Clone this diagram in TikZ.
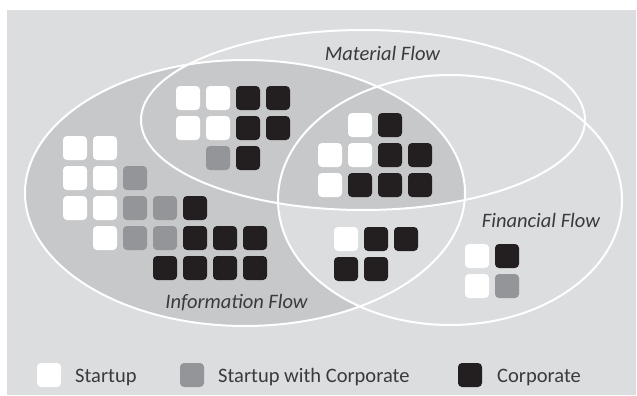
\documentclass[tikz,border=0pt]{standalone}
\usepackage{fontspec}
\setmainfont{Carlito}
\definecolor{panel}{HTML}{DCDDDF}
\definecolor{infofill}{HTML}{C7C8CA}
\definecolor{midgray}{HTML}{939598}
\definecolor{nearblack}{HTML}{231F20}
\definecolor{labeltext}{HTML}{3A3A3A}
\begin{document}
\begin{tikzpicture}[x=1pt,y=-1pt,
  tile/.style={minimum size=24pt, inner sep=0pt, outer sep=0pt,
    rounded corners=4pt, anchor=north west},
  flow/.style={font=\fontsize{20.5}{24}\selectfont\itshape, text=labeltext,
    anchor=base, inner sep=0pt},
  key/.style={font=\fontsize{20.5}{24}\selectfont, text=labeltext,
    anchor=base west, inner sep=0pt},
  ring/.style={draw=white, line width=2pt}]
\useasboundingbox (0,0) rectangle (637,396);
\fill[white] (0,0) rectangle (637,396);
\fill[panel] (7,10) rectangle (636,395);

% the three flows
\def\infopath{(245,193) ellipse [x radius=220pt, y radius=133pt]}
\def\matpath{(363,120) ellipse [x radius=222pt, y radius=90pt]}
\def\finpath{(450,200) ellipse [x radius=172pt, y radius=125pt]}

\fill[infofill] \infopath;
\begin{scope}
  \clip \infopath;
  \clip \finpath;
  \fill[panel] (0,0) rectangle (637,396);
  \clip \matpath;
  \fill[infofill] (0,0) rectangle (637,396);
\end{scope}
\draw[ring] \infopath;
\draw[ring] \matpath;
\draw[ring] \finpath;

% tiles
\foreach \c/\x/\y [count=\i] in {
  white/176/86, white/206/86, nearblack/236/86, nearblack/266/86,
  white/176/116, white/206/116, nearblack/236/116, nearblack/266/116,
  midgray/206/146, nearblack/236/146,
  white/63/136, white/93/136,
  white/63/166, white/93/166, midgray/123/166,
  white/63/196, white/93/196, midgray/123/196, midgray/153/196, nearblack/183/196,
  white/93/226, midgray/123/226, midgray/153/226, nearblack/183/226, nearblack/213/226, nearblack/243/226,
  nearblack/153/256, nearblack/183/256, nearblack/213/256, nearblack/243/256,
  white/348/113, nearblack/378/113,
  white/318/143, white/348/143, nearblack/378/143, nearblack/408/143,
  white/318/173, nearblack/348/173, nearblack/378/173, nearblack/408/173,
  white/334/227, nearblack/364/227, nearblack/394/227,
  nearblack/334/257, nearblack/364/257,
  white/465/244, nearblack/495/244,
  white/465/274, midgray/495/274}
  \node[tile, fill=\c] (t\i) at (\x,\y) {};

% labels
\node[flow] (matlabel) at (382.5,60) {Material Flow};
\node[flow] (infolabel) at (236.5,308) {Information Flow};
\node[flow] (finlabel) at (541,227) {Financial Flow};

% legend
\node[tile, fill=white] (kstartup) at (37,363) {};
\node[key] (lstartup) at (75,382) {Startup};
\node[tile, fill=midgray] (kboth) at (180,363) {};
\node[key] (lboth) at (218,382) {Startup with Corporate};
\node[tile, fill=nearblack] (kcorp) at (458,363) {};
\node[key] (lcorp) at (497,382) {Corporate};
\end{tikzpicture}
\end{document}
